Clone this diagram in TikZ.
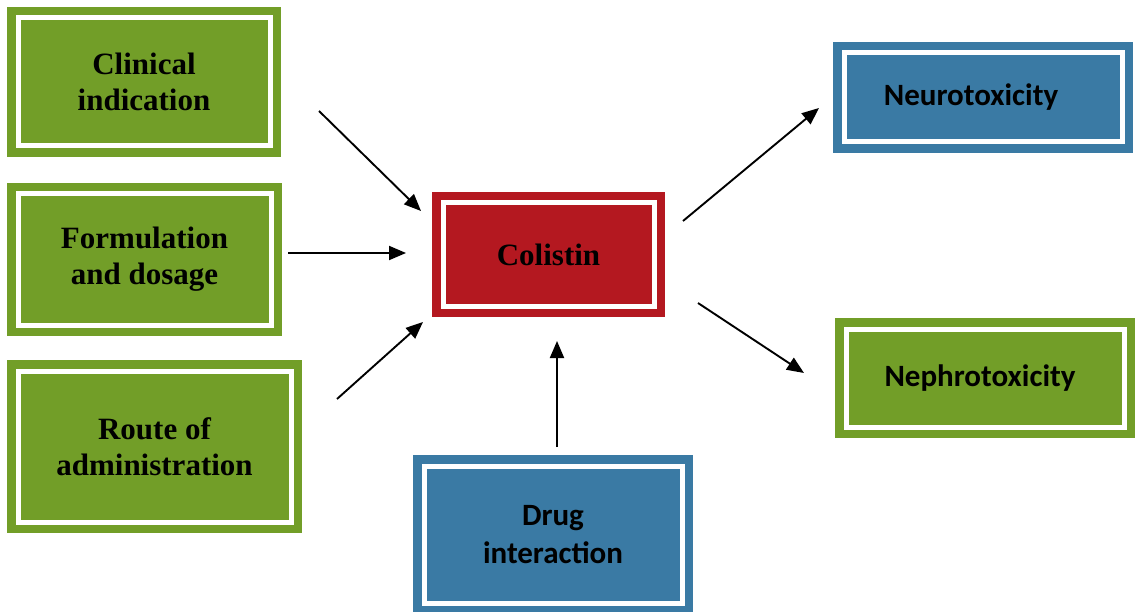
\documentclass[tikz,border=0pt]{standalone}
\usepackage{fontspec}
\setmainfont{Liberation Serif}
\newfontfamily\carlitofont{Carlito}
\usetikzlibrary{arrows.meta}
\definecolor{boxgreen}{RGB}{114,158,40}
\definecolor{boxred}{RGB}{180,24,32}
\definecolor{boxblue}{RGB}{58,122,164}
\begin{document}
\begin{tikzpicture}[x=1pt,y=-1pt,
  box/.style={rectangle, outer sep=0pt, inner sep=0pt, align=center, text=black,
    fill=#1, draw=white, line width=5pt,
    preaction={draw=#1, fill=#1, line width=22pt}},
  serifbox/.style={box=#1, font=\fontsize{31}{36}\selectfont\bfseries},
  sansbox/.style={box=#1, font=\carlitofont\fontsize{31}{38}\selectfont\bfseries},
  arr/.style={line width=1.9pt, black, -{Triangle[length=17pt,width=14pt]}}
]
\useasboundingbox (0,0) rectangle (1137,612);
\clip (0,0) rectangle (1137,612);
\fill[white] (0,0) rectangle (1137,612);

\node[serifbox=boxgreen, minimum width=252pt, minimum height=128pt] (clin) at (144,82) {Clinical\\indication};
\node[serifbox=boxgreen, minimum width=253pt, minimum height=131pt] (form) at (144.5,259.5) {Formulation\\and dosage};
\node[serifbox=boxgreen, minimum width=273pt, minimum height=151pt] (route) at (154.5,446.5) {Route of\\administration};
\node[serifbox=boxred, minimum width=211pt, minimum height=103pt] (col) at (548.5,254.5) {Colistin};
\node[sansbox=boxblue, minimum width=278pt, minimum height=89pt] (neuro) at (983,97.5) {\hspace*{-24pt}Neurotoxicity};
\node[sansbox=boxgreen, minimum width=278pt, minimum height=98pt] (nephro) at (985,378) {\hspace*{-10pt}Nephrotoxicity};
\node[sansbox=boxblue, minimum width=258pt, minimum height=137pt] (drug) at (553,534.5) {Drug\\interaction};

\coordinate (a1s) at (319,111); \coordinate (a1e) at (421,211);
\coordinate (a2s) at (288,253); \coordinate (a2e) at (406,253);
\coordinate (a3s) at (337,399); \coordinate (a3e) at (423,322);
\coordinate (a4s) at (557,447); \coordinate (a4e) at (557,341);
\coordinate (a5s) at (683,221); \coordinate (a5e) at (819,108);
\coordinate (a6s) at (698,303); \coordinate (a6e) at (804,373);

\draw[arr] (a1s) -- (a1e);
\draw[arr] (a2s) -- (a2e);
\draw[arr] (a3s) -- (a3e);
\draw[arr] (a4s) -- (a4e);
\draw[arr] (a5s) -- (a5e);
\draw[arr] (a6s) -- (a6e);
\end{tikzpicture}
\end{document}
